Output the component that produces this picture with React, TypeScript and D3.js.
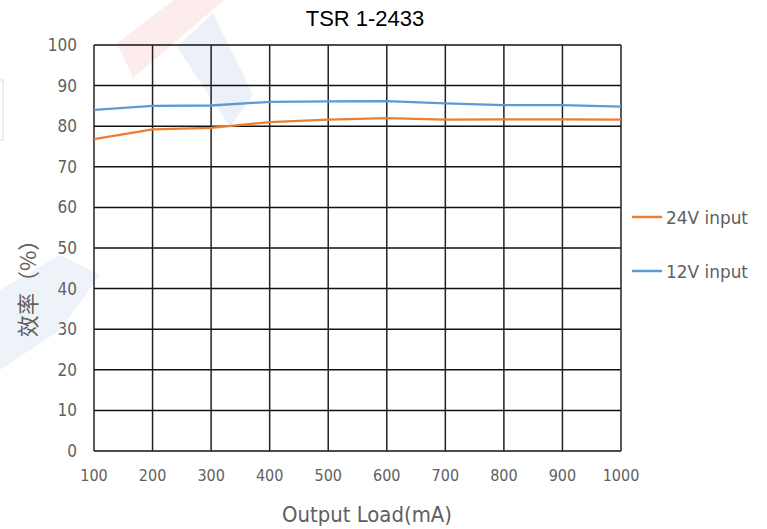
import React from "react";
import * as d3 from "d3";

const loads = [100, 200, 300, 400, 500, 600, 700, 800, 900, 1000];
const eff24 = [76.8, 79.2, 79.6, 81, 81.6, 82, 81.6, 81.7, 81.7, 81.6];
const eff12 = [84, 85, 85.1, 86, 86.1, 86.2, 85.6, 85.2, 85.2, 84.8];
const yTicks = [0, 10, 20, 30, 40, 50, 60, 70, 80, 90, 100];
const seriesNames = ["24V input", "12V input"];
const colors = ["#ED7D31", "#5B9BD5"];

export default function App() {
  const W = 767, H = 529;
  const x = d3.scaleLinear().domain([100, 1000]).range([94, 621]);
  const y = d3.scaleLinear().domain([0, 100]).range([451, 45]);
  const line = d3.line<number>().x((_, i) => x(loads[i])).y((d) => y(d));
  const series = [eff24, eff12];
  const tickFont = "'DejaVu Sans Condensed', 'Liberation Sans Narrow', sans-serif";
  const gray = "#5f5f5f";
  return (
    <svg width={W} height={H} style={{ position: "absolute", left: 0, top: 0, background: "#fff" }}>
      {/* faint watermark */}
      <g opacity={0.08}>
        <polygon points="117,43 133,78 230,-5 180,-5" fill="#e02020" />
        <polygon points="177,47 213,13 253,95 230,127" fill="#2060c0" />
        <polygon points="0,290 60,255 100,275 60,330 0,370" fill="#2060c0" />
      </g>
      <rect x={-4} y={80} width={7} height={60} fill="none" stroke="#ddd" />
      {yTicks.map((t) => (
        <line key={"h" + t} x1={x(100)} x2={x(1000)} y1={y(t)} y2={y(t)} stroke="#111" strokeWidth={1.5} />
      ))}
      {loads.map((l) => (
        <line key={"v" + l} x1={x(l)} x2={x(l)} y1={y(0)} y2={y(100)} stroke="#222" strokeWidth={1.5} />
      ))}
      {series.map((s, i) => (
        <path key={i} d={line(s) || ""} fill="none" stroke={colors[i]} strokeWidth={2.3} />
      ))}
      {yTicks.map((t) => (
        <text key={"yt" + t} x={77} y={y(t) + 6} textAnchor="end" fontSize={17} fontFamily={tickFont} fill={gray}>
          {t}
        </text>
      ))}
      {loads.map((l) => (
        <text key={"xt" + l} x={x(l)} y={481} textAnchor="middle" fontSize={16} fontFamily={tickFont} fill={gray}>
          {l}
        </text>
      ))}
      <text x={365} y={26} textAnchor="middle" fontSize={22} fontFamily="'Liberation Sans', Arial, sans-serif" fill="#000">
        TSR 1-2433
      </text>
      <text x={367} y={522} textAnchor="middle" fontSize={21} fontFamily={tickFont} fill={gray} textLength={170} lengthAdjust="spacingAndGlyphs">
        Output Load(mA)
      </text>
      <text
        transform={`translate(36,${283}) rotate(-90)`}
        textAnchor="middle"
        fontSize={22}
        fontFamily="'Noto Sans CJK SC', sans-serif"
        fill={gray}
      >
        效率（%）
      </text>
      {seriesNames.map((n, i) => (
        <g key={n}>
          <line x1={632} x2={662} y1={217 + i * 54} y2={217 + i * 54} stroke={colors[i]} strokeWidth={2.5} />
          <text x={666} y={224 + i * 54} fontSize={18} fontFamily={tickFont} fill={gray} textLength={82} lengthAdjust="spacingAndGlyphs">
            {n}
          </text>
        </g>
      ))}
    </svg>
  );
}
